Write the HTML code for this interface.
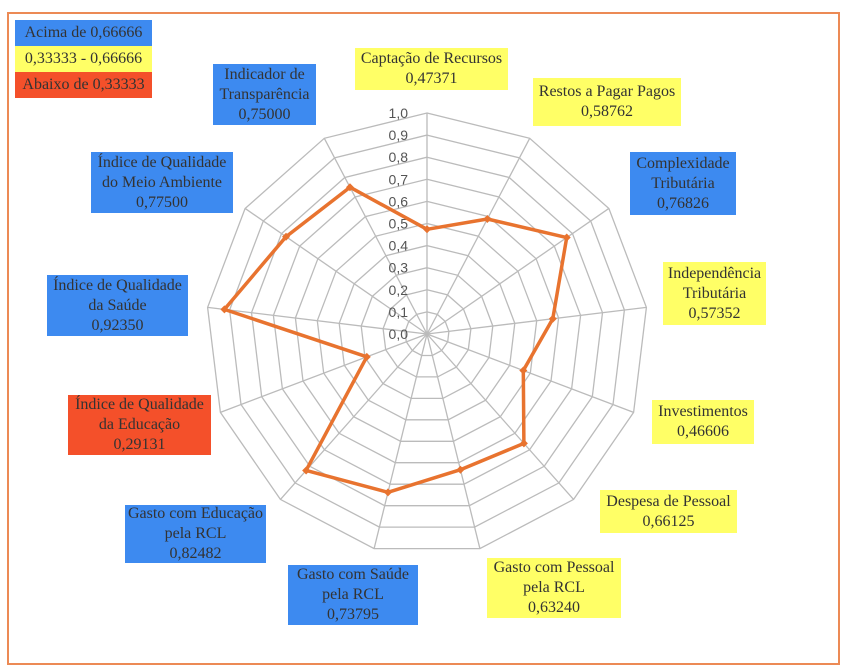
<!DOCTYPE html>
<html><head><meta charset="utf-8"><style>
body{margin:0;width:846px;height:672px;background:#fff;position:relative;overflow:hidden;font-family:"Liberation Serif",serif;}
.b{position:absolute;display:flex;flex-direction:column;justify-content:center;align-items:center;text-align:center;font-size:16px;line-height:20px;color:#333;white-space:nowrap;}
.bl{background:#3d8af0;}.y{background:#ffff66;}.r{background:#f4502a;}
#frame{position:absolute;left:7px;top:12px;width:829px;height:649px;border:2px solid #ec8a55;}
</style></head><body>
<div id="frame"></div>
<svg id="s" width="846" height="672" style="position:absolute;left:0;top:0"></svg>
<div class="b bl" style="left:15px;top:20px;width:137px;height:26px">Acima de 0,66666</div>
<div class="b y" style="left:15px;top:46px;width:137px;height:26px">0,33333 - 0,66666</div>
<div class="b r" style="left:15px;top:72px;width:137px;height:26px">Abaixo de 0,33333</div>
<div class="b y" style="left:355px;top:48px;width:153px;height:42px">Captação de Recursos<br>0,47371</div>
<div class="b y" style="left:533px;top:78px;width:148px;height:48px">Restos a Pagar Pagos<br>0,58762</div>
<div class="b bl" style="left:630px;top:152px;width:106px;height:63px">Complexidade<br>Tributária<br>0,76826</div>
<div class="b y" style="left:663px;top:262px;width:103px;height:63px">Independência<br>Tributária<br>0,57352</div>
<div class="b y" style="left:652px;top:400px;width:102px;height:44px">Investimentos<br>0,46606</div>
<div class="b y" style="left:600px;top:490px;width:137px;height:43px">Despesa de Pessoal<br>0,66125</div>
<div class="b y" style="left:487px;top:558px;width:134px;height:60px">Gasto com Pessoal<br>pela RCL<br>0,63240</div>
<div class="b bl" style="left:288px;top:565px;width:130px;height:60px">Gasto com Saúde<br>pela RCL<br>0,73795</div>
<div class="b bl" style="left:125px;top:505px;width:141px;height:58px">Gasto com Educação<br>pela RCL<br>0,82482</div>
<div class="b r" style="left:68px;top:395px;width:143px;height:60px">Índice de Qualidade<br>da Educação<br>0,29131</div>
<div class="b bl" style="left:47px;top:275px;width:141px;height:61px">Índice de Qualidade<br>da Saúde<br>0,92350</div>
<div class="b bl" style="left:91px;top:152px;width:142px;height:61px">Índice de Qualidade<br>do Meio Ambiente<br>0,77500</div>
<div class="b bl" style="left:213px;top:64px;width:103px;height:61px">Indicador de<br>Transparência<br>0,75000</div>
<script>
var cx=427,cy=334,R=221,n=13,s=document.getElementById('s'),h='';
var v=[0.47371,0.58762,0.76826,0.57352,0.46606,0.66125,0.63240,0.73795,0.82482,0.29131,0.92350,0.77500,0.75000];
function p(i,r){var a=2*Math.PI*i/n;return [cx+Math.sin(a)*r,cy-Math.cos(a)*r];}
for(var k=1;k<=10;k++){var pts=[];for(var i=0;i<n;i++){var q=p(i,R*k/10);pts.push(q[0].toFixed(1)+','+q[1].toFixed(1));}
h+='<polygon points="'+pts.join(' ')+'" fill="none" stroke="#bbb" stroke-width="1.3"/>';}
for(var i=0;i<n;i++){var q=p(i,R);h+='<line x1="'+cx+'" y1="'+cy+'" x2="'+q[0]+'" y2="'+q[1]+'" stroke="#bbb" stroke-width="1.3"/>';}
for(var k=0;k<=10;k++){h+='<text x="408" y="'+(cy-R*k/10+5)+'" text-anchor="end" font-family="Liberation Sans,sans-serif" font-size="14" fill="#555">'+(k==10?'1,0':'0,'+k)+'</text>';}
var d=[];for(var i=0;i<n;i++){var q=p(i,R*v[i]);d.push(q[0].toFixed(1)+','+q[1].toFixed(1));
h+='<polygon points="'+q[0]+','+(q[1]-4)+' '+(q[0]+4)+','+q[1]+' '+q[0]+','+(q[1]+4)+' '+(q[0]-4)+','+q[1]+'" fill="#e8732f"/>';}
h+='<polygon points="'+d.join(' ')+'" fill="none" stroke="#e8732f" stroke-width="3.5" stroke-linejoin="round"/>';
s.innerHTML=h;
</script>
</body></html>
